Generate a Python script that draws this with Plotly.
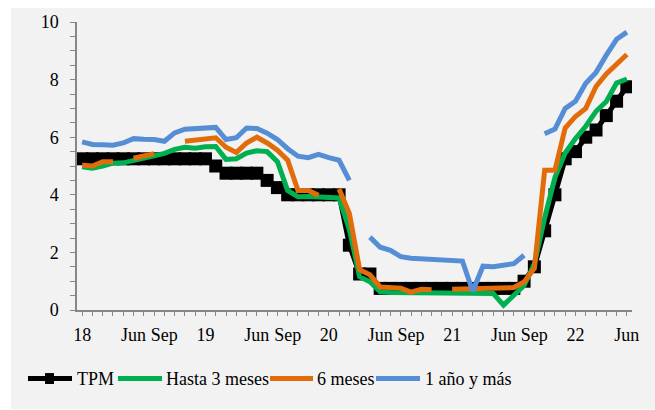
import plotly.graph_objects as go

# ---------------- data ----------------
months = [f"{y}-{m:02d}" for y in (2018, 2019, 2020, 2021) for m in range(1, 13)] + \
         [f"2022-{m:02d}" for m in range(1, 7)]

tick_labels = {"2018-01": "18", "2018-06": "Jun", "2018-09": "Sep",
               "2019-01": "19", "2019-06": "Jun", "2019-09": "Sep",
               "2020-01": "20", "2020-06": "Jun", "2020-09": "Sep",
               "2021-01": "21", "2021-06": "Jun", "2021-09": "Sep",
               "2022-01": "22", "2022-06": "Jun"}

tpm = [5.25] * 13 + [5.0] + [4.75] * 4 + [4.5, 4.25] + [4.0] * 6 + [2.25, 1.25, 1.25] + \
      [0.75] * 14 + [1.0, 1.5, 2.75, 4.0, 5.25, 5.5, 6.0, 6.25, 6.75, 7.25, 7.75]

hasta3 = [4.97, 4.92, 5.00, 5.10, 5.11, 5.18, 5.27, 5.35, 5.44, 5.58, 5.65, 5.62,
          5.67, 5.68, 5.23, 5.25, 5.45, 5.53, 5.50, 5.15, 4.15, 3.93, 3.94, 3.93,
          3.91, 3.89, 2.80, 1.15, 0.98, 0.63, 0.61, 0.61, 0.60, 0.60, 0.60, 0.60,
          0.60, 0.58, 0.58, 0.58, 0.57, 0.17, 0.50, 0.85, 1.60, 3.20, 4.60, 5.45,
          5.95, 6.38, 6.90, 7.24, 7.88, 8.02]

seis = [5.03, 5.00, 5.15, 5.15, None, 5.27, 5.36, 5.43, None, None, 5.86, 5.90,
        5.92, 5.98, 5.65, 5.47, 5.80, 6.00, 5.80, 5.55, 5.20, 4.15, 4.15, 3.98,
        None, 4.20, 3.35, 1.40, 1.22, 0.80, 0.78, 0.76, 0.62, 0.72, 0.70, None,
        0.72, 0.73, 0.73, 0.74, 0.74, 0.75, 0.78, 0.97, 1.45, 4.85, 4.85, 6.32,
        6.72, 7.00, 7.76, 8.20, 8.56, 8.87]

un_ano = [5.84, 5.75, 5.74, 5.72, 5.80, 5.95, 5.93, 5.92, 5.86, 6.15, 6.28, 6.30,
          6.32, 6.34, 5.92, 5.98, 6.32, 6.30, 6.14, 5.92, 5.60, 5.34, 5.29, 5.40,
          5.29, 5.20, 4.50, None, 2.53, 2.18, 2.07, 1.85, 1.80, 1.78, 1.74, 1.71,
          1.69, 1.70, 0.65, 1.52, 1.50, 1.55, 1.61, 1.90, None, 6.12, 6.28, 7.00,
          7.25, 7.87, 8.25, 8.85, 9.40, 9.65]

series_names = ["TPM", "Hasta 3 meses", "6 meses", "1 año y más"]
colors = ["#000000", "#00B050", "#E36C0A", "#558ED5"]

# ---------------- figure ----------------
W, H = 655, 410
L, R, T, B = 77, 23, 20, 100
pw, ph = W - L - R, H - T - B
FONT = "Liberation Serif"


def px(x):
    return (x - L) / pw


def py(y):
    return (H - B - y) / ph


fig = go.Figure()
fig.add_trace(go.Scatter(x=months, y=tpm, mode="lines+markers", name=series_names[0],
                         line=dict(color=colors[0], width=5),
                         marker=dict(symbol="square", size=13, color=colors[0]),
                         showlegend=False))
for name, vals, col in zip(series_names[1:], [hasta3, seis, un_ano], colors[1:]):
    fig.add_trace(go.Scatter(x=months, y=vals, mode="lines", name=name,
                             line=dict(color=col, width=5), connectgaps=False,
                             showlegend=False))

shapes = [dict(type="rect", xref="paper", yref="paper", layer="below",
               x0=px(11), x1=px(655), y0=py(410), y1=py(6),
               fillcolor="#F2F2F2", line=dict(width=0))]
annotations = []

# custom legend
leg_y = 379
leg_items = [(28, 72, 75), (118, 162, 164), (270, 313, 315), (376, 420, 423)]
for (x0, x1, tx), name, col in zip(leg_items, series_names, colors):
    shapes.append(dict(type="line", xref="paper", yref="paper",
                       x0=px(x0), x1=px(x1), y0=py(leg_y), y1=py(leg_y),
                       line=dict(color=col, width=5)))
    annotations.append(dict(xref="paper", yref="paper", x=px(tx), y=py(leg_y),
                            xanchor="left", yanchor="middle", showarrow=False,
                            text=name, font=dict(family=FONT, size=18, color="#000000")))
shapes.append(dict(type="rect", xref="paper", yref="paper",
                   x0=px(45), x1=px(54), y0=py(384.5), y1=py(373.5),
                   fillcolor="#000000", line=dict(width=0)))

fig.update_layout(
    width=W, height=H,
    margin=dict(l=L, r=R, t=T, b=B),
    paper_bgcolor="#FFFFFF",
    plot_bgcolor="rgba(0,0,0,0)",
    showlegend=False,
    shapes=shapes,
    annotations=annotations,
    font=dict(family=FONT, size=17, color="#000000"),
)

fig.update_xaxes(type="category", range=[-0.5, len(months) - 0.5],
                 tickvals=months, ticktext=[tick_labels.get(m, "") for m in months],
                 ticks="outside", ticklen=4, tickwidth=1, tickcolor="#868686",
                 showline=True, linecolor="#868686", linewidth=1.5,
                 showgrid=False, zeroline=False, tickangle=0, ticklabelstandoff=4,
                 tickfont=dict(family=FONT, size=18, color="#000000"))
fig.update_yaxes(range=[0, 10], tickvals=[0, 2, 4, 6, 8, 10],
                 ticks="outside", ticklen=5, tickwidth=1, tickcolor="#868686",
                 minor=dict(dtick=0.5, ticks="outside", ticklen=5, tickcolor="#868686", showgrid=False),
                 showline=True, linecolor="#868686", linewidth=1.5,
                 showgrid=False, zeroline=False, ticklabelstandoff=8,
                 tickfont=dict(family=FONT, size=18, color="#000000"))

fig.write_html("out.html", config={"displayModeBar": False},
               post_script="document.body.style.margin='0';document.body.style.overflow='hidden';")
